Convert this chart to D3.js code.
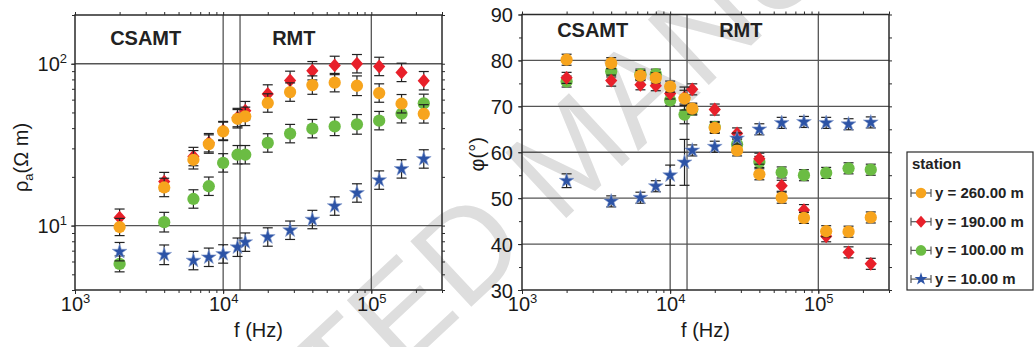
<!DOCTYPE html>
<html>
<head>
<meta charset="utf-8">
<script src="https://cdn.jsdelivr.net/npm/d3@7"></script>
<style>
  html, body { margin: 0; padding: 0; background: #fff; }
  svg { display: block; font-family: "Liberation Sans", Arial, Helvetica, sans-serif; }
</style>
</head>
<body>
<svg id="chart" width="1034" height="347"></svg>
<script>
// ---- data -------------------------------------------------------------
const freqs = [2000, 4000, 6300, 8000, 10000, 12500, 14100, 20000, 28300, 40000, 56600, 80000, 113000, 160000, 226000];

const stationNames = ["y = 260.00 m", "y = 190.00 m", "y = 100.00 m", "y = 10.00 m"];

// apparent resistivity (ohm m)
const rho260 = [9.8, 17.2, 25.5, 31.9, 38.2, 45.7, 47.3, 57.2, 66.8, 73.8, 76.4, 73.1, 65.9, 56.6, 49.0];
const rho190 = [11.2, 18.7, 26.7, 32.5, 38.6, 46.5, 51.3, 65.0, 78.9, 90.5, 97.6, 100, 96.2, 88.4, 78.5];
const rho100 = [5.8, 10.5, 14.6, 17.5, 24.4, 27.4, 27.4, 32.4, 37.0, 39.7, 41.0, 42.2, 44.5, 49.1, 56.9];
const rho10  = [6.9, 6.6, 6.08, 6.37, 6.68, 7.35, 7.9, 8.5, 9.36, 10.9, 13.2, 15.9, 19.1, 22.4, 25.8];

// resistivity error (percent)
const rhoErr260 = [13, 14, 14, 14, 14, 14, 14, 14, 14, 14, 14, 15, 14, 14, 14];
const rhoErr190 = [13, 14, 14, 14, 14, 14, 14, 14, 14, 14, 14, 14, 14, 14, 14];
const rhoErr100 = [12, 15, 14, 14, 14, 14, 14, 14, 14, 14, 14, 15, 14, 14, 14];
const rhoErr10  = [14, 15, 14, 14, 14, 14, 14, 14, 14, 14, 14, 14, 14, 14, 14];

// phase (degrees)
const phi260 = [80.15, 79.4, 76.7, 76.2, 74.3, 71.7, 69.5, 65.3, 60.4, 55.2, 50.1, 45.7, 42.8, 42.7, 45.8];
const phi190 = [76.2, 75.6, 74.7, 74.5, 72.8, 72.0, 73.7, 69.3, 64.1, 58.6, 52.7, 47.4, 41.7, 38.2, 35.7];
const phi100 = [75.4, 77.6, 77.0, 77.0, 71.3, 68.2, 69.3, 65.5, 61.7, 57.9, 55.6, 55.0, 55.5, 56.5, 56.2];
const phi10  = [53.8, 49.3, 50.1, 52.6, 55.0, 57.8, 60.4, 61.2, 63.0, 65.0, 66.4, 66.6, 66.4, 66.1, 66.5];

// phase error (degrees)
const phiErr260 = [1.2, 1.2, 1.1, 1.1, 1.2, 2.5, 1.2, 1.2, 1.2, 1.2, 1.2, 1.2, 1.2, 1.2, 1.2];
const phiErr190 = [1.2, 1.2, 1.1, 1.1, 1.2, 1.5, 1.2, 1.2, 1.2, 1.2, 1.2, 1.2, 1.2, 1.2, 1.2];
const phiErr100 = [1.2, 1.2, 1.1, 1.1, 1.2, 2.0, 1.2, 1.2, 1.2, 1.2, 1.2, 1.2, 1.2, 1.2, 1.2];
const phiErr10  = [1.5, 1.2, 1.2, 1.2, 2.2, 5.0, 1.2, 1.2, 1.2, 1.2, 1.2, 1.2, 1.2, 1.2, 1.2];

// axis settings
const freqDomain = [1e3, 3e5];
const rhoDomain = [4, 200];
const phiDomain = [30, 90];
const phiTicks = [30, 40, 50, 60, 70, 80, 90];
const freqGrid = [1e4, 1.3e4, 1e5];
const rhoGrid = [10, 100];
const phiGrid = [40, 50, 60, 70, 80];
const bandLabels = [{ text: "CSAMT", f: 3e3 }, { text: "RMT", f: 3e4 }];

// ---- symbols ----------------------------------------------------------
const symbolDiamondWide = {
  draw(ctx, size) {
    const h = Math.sqrt(size) * 0.62, w = h * 0.88;
    ctx.moveTo(0, -h); ctx.lineTo(w, 0); ctx.lineTo(0, h); ctx.lineTo(-w, 0); ctx.closePath();
  }
};

const series = [
  { name: stationNames[0], color: "#F7A41D", type: d3.symbolCircle, size: 118, rho: rho260, rhoErr: rhoErr260, phi: phi260, phiErr: phiErr260 },
  { name: stationNames[1], color: "#E8202A", type: symbolDiamondWide, size: 125, rho: rho190, rhoErr: rhoErr190, phi: phi190, phiErr: phiErr190 },
  { name: stationNames[2], color: "#6BBC43", type: d3.symbolCircle, size: 118, rho: rho100, rhoErr: rhoErr100, phi: phi100, phiErr: phiErr100 },
  { name: stationNames[3], color: "#2C53A6", type: d3.symbolStar, size: 68, rho: rho10, rhoErr: rhoErr10, phi: phi10, phiErr: phiErr10 }
];
// painting order: green, red, orange, blue
const drawOrder = [2, 1, 0, 3];

// ---- layout -----------------------------------------------------------
const svg = d3.select("#chart");
const AX = "#2a2a2a", GRID = "#555";

// diagonal watermark behind everything
svg.append("text")
  .attr("transform", "translate(570,153) rotate(-43)")
  .attr("text-anchor", "middle")
  .attr("dominant-baseline", "central")
  .attr("font-size", 130)
  .attr("fill", "#dedede")
  .text("ACCEPTED MANUSCRIPT");

const xL = d3.scaleLog().domain(freqDomain).range([75, 442]);
const yL = d3.scaleLog().domain(rhoDomain).range([290, 15]);
const xR = d3.scaleLog().domain(freqDomain).range([522, 889]);
const yR = d3.scaleLinear().domain(phiDomain).range([290, 14.5]);

function pow10Label(text) {
  text.each(function (d) {
    const t = d3.select(this);
    const e = Math.round(Math.log10(d));
    t.text(null);
    t.append("tspan").text("10");
    t.append("tspan").attr("font-size", "13px").attr("dy", "-0.62em").text(e);
  });
}

function styleAxis(g) {
  g.select(".domain").remove();
  g.selectAll(".tick line").attr("stroke", AX).attr("stroke-width", 1);
  g.attr("font-family", null).attr("font-size", null);
}

function drawPanel(x, y, isLog, hGrid, yTickVals, bandY) {
  const g = svg.append("g");
  const [xa, xb] = x.range();
  const [yb, ya] = y.range();

  // grid lines
  g.selectAll(".vg").data(freqGrid).join("line")
    .attr("x1", d => x(d)).attr("x2", d => x(d))
    .attr("y1", ya).attr("y2", yb)
    .attr("stroke", GRID).attr("stroke-width", 1.3);
  g.selectAll(".hg").data(hGrid).join("line")
    .attr("x1", xa).attr("x2", xb)
    .attr("y1", d => y(d)).attr("y2", d => y(d))
    .attr("stroke", GRID).attr("stroke-width", 1.3);

  // frequency axes (bottom with labels, top mirrored)
  const fMinor = x.ticks();
  const fMajor = fMinor.filter(d => Math.abs(Math.log10(d) - Math.round(Math.log10(d))) < 1e-9);
  g.append("g").attr("transform", `translate(0,${yb})`)
    .call(d3.axisBottom(x).tickValues(fMinor).tickSize(3).tickFormat(""))
    .call(styleAxis);
  g.append("g").attr("transform", `translate(0,${ya})`)
    .call(d3.axisTop(x).tickValues(fMinor).tickSize(3).tickFormat(""))
    .call(styleAxis);
  const bx = g.append("g").attr("transform", `translate(0,${yb})`)
    .call(d3.axisBottom(x).tickValues(fMajor).tickSize(4))
    .call(styleAxis);
  bx.selectAll(".tick text")
    .attr("y", 21).attr("dy", 0)
    .attr("font-size", "20px").attr("fill", "#1a1a1a")
    .call(pow10Label);

  // value axes (left with labels, right mirrored)
  let vMinor;
  if (isLog) {
    vMinor = y.ticks();
  } else {
    vMinor = d3.range(phiDomain[0], phiDomain[1] + 0.1, 5);
  }
  g.append("g").attr("transform", `translate(${xa},0)`)
    .call(d3.axisLeft(y).tickValues(vMinor).tickSize(3).tickFormat(""))
    .call(styleAxis);
  g.append("g").attr("transform", `translate(${xb},0)`)
    .call(d3.axisRight(y).tickValues(vMinor).tickSize(3).tickFormat(""))
    .call(styleAxis);
  const ly = g.append("g").attr("transform", `translate(${xa},0)`)
    .call(d3.axisLeft(y).tickValues(yTickVals).tickSize(4).tickFormat(isLog ? null : d3.format("d")))
    .call(styleAxis);
  ly.selectAll(".tick text")
    .attr("x", isLog ? -8 : -9)
    .attr("dy", "0.36em")
    .attr("font-size", "20px").attr("fill", "#1a1a1a");
  if (isLog) ly.selectAll(".tick text").call(pow10Label);

  // frame
  g.append("rect")
    .attr("x", xa).attr("y", ya)
    .attr("width", xb - xa).attr("height", yb - ya)
    .attr("fill", "none").attr("stroke", AX).attr("stroke-width", 1.5);

  // band labels
  g.selectAll(".band").data(bandLabels).join("text")
    .attr("x", d => x(d.f)).attr("y", bandY)
    .attr("text-anchor", "middle")
    .attr("font-size", "20px").attr("font-weight", "bold").attr("fill", "#222")
    .text(d => d.text);

  // x title
  g.append("text")
    .attr("x", (xa + xb) / 2).attr("y", 337)
    .attr("text-anchor", "middle")
    .attr("font-size", "20px").attr("fill", "#1a1a1a")
    .text("f (Hz)");

  return g;
}

const gL = drawPanel(xL, yL, true, rhoGrid, [10, 100], yL(130));
const gR = drawPanel(xR, yR, false, phiGrid, phiTicks, yR(85));

// y titles
svg.append("text")
  .attr("transform", `translate(28,${(15 + 290) / 2 + 5}) rotate(-90)`)
  .attr("text-anchor", "middle")
  .attr("font-size", "20px").attr("fill", "#1a1a1a")
  .call(t => {
    t.append("tspan").text("ρ");
    t.append("tspan").attr("font-size", "13px").attr("dy", "0.35em").text("a");
    t.append("tspan").attr("dy", "-0.25em").text("(Ω m)");
  });
svg.append("text")
  .attr("transform", `translate(484,${(14.5 + 290) / 2 + 2}) rotate(-90)`)
  .attr("text-anchor", "middle")
  .attr("font-size", "20px").attr("fill", "#1a1a1a")
  .text("φ(°)");

// ---- data marks -------------------------------------------------------
const CAP = 5;
function drawSeries(g, x, y, valKey, errKey, isLog) {
  drawOrder.forEach(i => {
    const s = series[i];
    const pts = freqs.map((f, k) => {
      const v = s[valKey][k], e = s[errKey][k];
      const lo = isLog ? v / (1 + e / 100) : v - e;
      const hi = isLog ? v * (1 + e / 100) : v + e;
      return { f, v, lo, hi };
    });
    const sg = g.append("g");
    const eb = sg.selectAll(".eb").data(pts).join("g")
      .attr("stroke", "#222").attr("stroke-width", 1.2);
    eb.append("line")
      .attr("x1", d => x(d.f)).attr("x2", d => x(d.f))
      .attr("y1", d => y(d.lo)).attr("y2", d => y(d.hi));
    eb.append("line")
      .attr("x1", d => x(d.f) - CAP).attr("x2", d => x(d.f) + CAP)
      .attr("y1", d => y(d.lo)).attr("y2", d => y(d.lo));
    eb.append("line")
      .attr("x1", d => x(d.f) - CAP).attr("x2", d => x(d.f) + CAP)
      .attr("y1", d => y(d.hi)).attr("y2", d => y(d.hi));
    sg.selectAll(".mk").data(pts).join("path")
      .attr("transform", d => `translate(${x(d.f)},${y(d.v)})`)
      .attr("d", d3.symbol().type(s.type).size(s.size))
      .attr("fill", s.color)
      .attr("stroke", i === 3 ? "#8aa0cf" : "none")
      .attr("stroke-width", 0.6);
  });
}
drawSeries(gL, xL, yL, "rho", "rhoErr", true);
drawSeries(gR, xR, yR, "phi", "phiErr", false);

// ---- legend -----------------------------------------------------------
const lg = svg.append("g").attr("transform", "translate(907,152)");
lg.append("rect").attr("width", 126).attr("height", 138)
  .attr("fill", "#fff").attr("stroke", AX).attr("stroke-width", 1.2);
lg.append("text").attr("x", 5).attr("y", 17)
  .attr("font-size", "15px").attr("font-weight", "bold").attr("fill", "#222")
  .text("station");
const items = lg.selectAll(".item").data(series).join("g")
  .attr("transform", (d, i) => `translate(0,${46 + i * 28.7})`);
items.append("line").attr("x1", 4).attr("x2", 24).attr("y1", -5).attr("y2", -5)
  .attr("stroke", "#555").attr("stroke-width", 1.2);
items.append("line").attr("x1", 4).attr("x2", 4).attr("y1", -9).attr("y2", -1)
  .attr("stroke", "#555").attr("stroke-width", 1.2);
items.append("line").attr("x1", 24).attr("x2", 24).attr("y1", -9).attr("y2", -1)
  .attr("stroke", "#555").attr("stroke-width", 1.2);
items.append("path")
  .attr("transform", "translate(14,-5)")
  .attr("d", d => d3.symbol().type(d.type).size(d.size * 0.75)())
  .attr("fill", d => d.color);
items.append("text").attr("x", 28).attr("y", 0)
  .attr("font-size", "15px").attr("font-weight", "bold").attr("fill", "#222")
  .text(d => d.name);
</script>
</body>
</html>
